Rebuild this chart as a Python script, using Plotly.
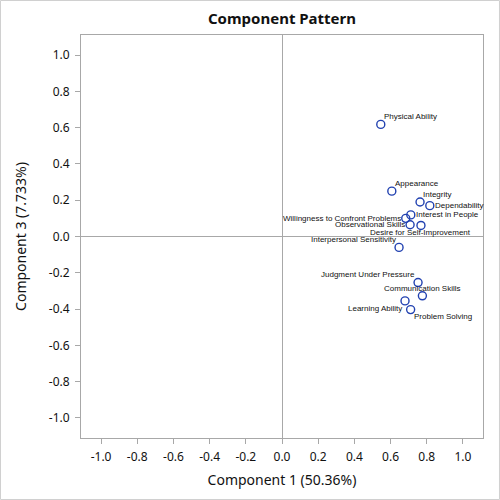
"""
Component pattern plot (loadings on components 1 and 3)
"""

import plotly.graph_objs as go

NAMES = ['Physical Ability', 'Appearance', 'Integrity', 'Dependability',
         'Interest in People', 'Willingness to Confront Problems',
         'Observational Skills', 'Desire for Self-Improvement',
         'Interpersonal Sensitivity', 'Judgment Under Pressure',
         'Communication Skills', 'Learning Ability', 'Problem Solving']
COMP1 = [0.546, 0.607, 0.763, 0.817, 0.712, 0.684, 0.708, 0.768,
         0.647, 0.752, 0.776, 0.680, 0.711]
COMP3 = [0.618, 0.250, 0.190, 0.170, 0.119, 0.100, 0.065, 0.061,
         -0.060, -0.254, -0.327, -0.355, -0.403]
LABEL_POS = ['top right', 'top right', 'top right', 'middle right',
             'middle right', 'middle left', 'middle left', 'bottom center',
             'top left', 'top left', 'top center', 'bottom left',
             'bottom right']
TICKS = [-1.0, -0.8, -0.6, -0.4, -0.2, 0.0, 0.2, 0.4, 0.6, 0.8, 1.0]
TICK_TEXT = ['%.1f' % t for t in TICKS]

FONT = 'Noto Sans'
GRAY = '#a8a8a8'
TEXT = '#111111'

# label placement relative to the marker: (xanchor, xshift, yshift)
OFFSETS = {
    'top right': ('left', 2, 8),
    'middle right': ('left', 4, 0),
    'middle left': ('right', -4, 0),
    'bottom center': ('center', 0, -7),
    'top left': ('right', -2, 8),
    'top center': ('center', 0, 7),
    'bottom left': ('right', -2, -8),
    'bottom right': ('left', 2, -7),
}

TRACE = go.Scatter(x=COMP1, y=COMP3, mode='markers',
                   marker=dict(symbol='circle-open', size=8,
                               color='#2141b0', line=dict(width=1.4)),
                   cliponaxis=False, showlegend=False, hovertext=NAMES)

labels = []
for name, x, y, pos in zip(NAMES, COMP1, COMP3, LABEL_POS):
    xanchor, dx, dy = OFFSETS[pos]
    labels.append(dict(x=x, y=y, text=name, showarrow=False,
                       xanchor=xanchor, yanchor='middle',
                       xshift=dx, yshift=dy, borderpad=0,
                       font=dict(family='Liberation Sans', size=8,
                                 color=TEXT)))


def axis(title, standoff):
    return dict(title=dict(text=title, standoff=standoff,
                           font=dict(family=FONT, size=14, color=TEXT)),
                range=[-1.111, 1.111], tickvals=TICKS, ticktext=TICK_TEXT,
                tickfont=dict(family=FONT, size=12, color=TEXT),
                ticks='outside', ticklen=5, tickcolor=GRAY,
                ticklabelstandoff=3,
                showline=True, linecolor=GRAY, mirror=True,
                showgrid=False, zeroline=True, zerolinecolor=GRAY,
                zerolinewidth=1, automargin=False)


fig = go.Figure([TRACE])
fig.update_layout(
    width=500, height=500,
    margin=dict(l=81, r=17, t=35, b=62),
    paper_bgcolor='white', plot_bgcolor='white',
    title=dict(text='<b>Component Pattern</b>', x=0.5, xref='paper',
               y=0.962, yanchor='middle',
               font=dict(family=FONT, size=15, color=TEXT)),
    xaxis=axis('Component 1 (50.36%)', 10),
    yaxis=axis('Component 3 (7.733%)', 18),
    annotations=labels,
    shapes=[dict(type='rect', xref='paper', yref='paper',
                 x0=-0.2002, x1=1.041, y0=-0.1526, y1=1.0856,
                 line=dict(color='#d0d0d0', width=1))],
)
fig.write_html('out.html', config={'displayModeBar': False},
               post_script="document.body.style.margin = '0px';")
